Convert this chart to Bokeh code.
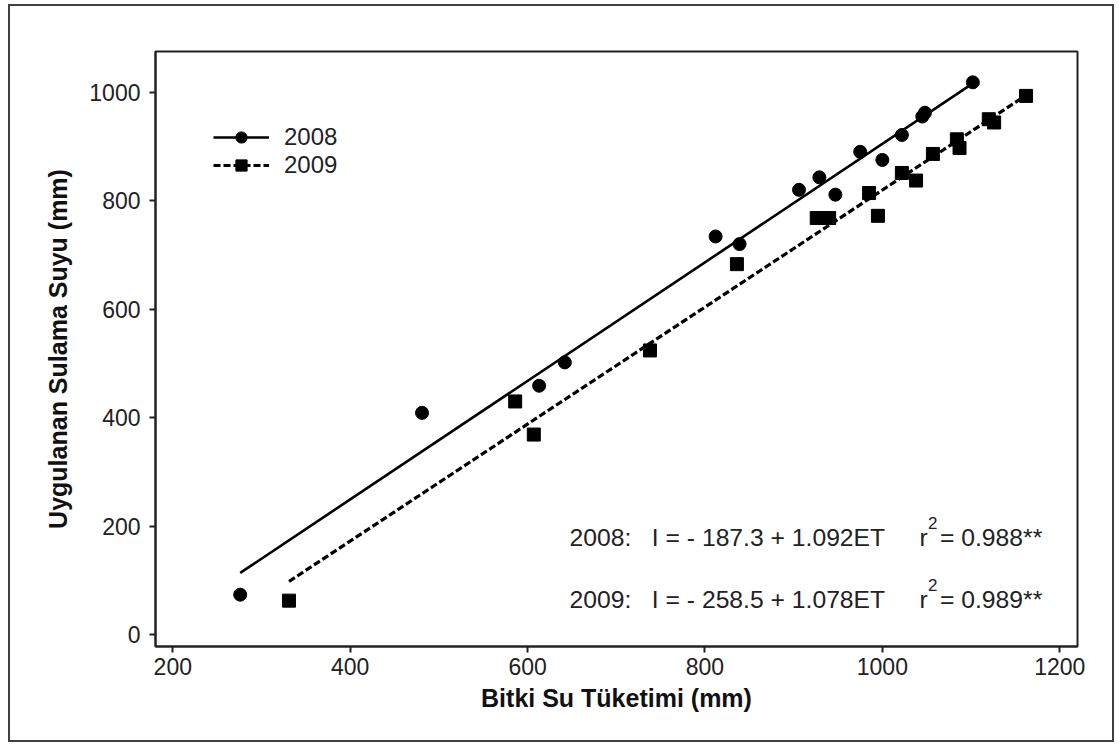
import numpy as np
from bokeh.plotting import figure
from bokeh.models import Range1d, FixedTicker, Legend, LegendItem, Label
from bokeh.embed import file_html
from bokeh.resources import INLINE

# ---------------- data ----------------
years = ["2008", "2009"]
et_2008 = [276, 481, 613, 642, 812, 839, 906, 929, 947, 975, 1000, 1022, 1045, 1048, 1102]
irr_2008 = [74, 409, 459, 502, 734, 720, 820, 843, 811, 890, 875, 921, 955, 962, 1018]
et_2009 = [331, 586, 607, 738, 836, 926, 940, 985, 995, 1022, 1038, 1057, 1084, 1087, 1120, 1126, 1162]
irr_2009 = [63, 430, 369, 524, 683, 768, 768, 814, 772, 851, 837, 886, 913, 897, 950, 944, 993]
intercepts = [-187.3, -258.5]
slopes = [1.092, 1.078]
r2_values = [0.988, 0.989]
x_ticks = [200, 400, 600, 800, 1000, 1200]
y_ticks = [0, 200, 400, 600, 800, 1000]
x_label = "Bitki Su Tüketimi (mm)"
y_label = "Uygulanan Sulama Suyu (mm)"

FONT = "Liberation Sans"
X0, X1 = 180.5, 1220.0
Y0, Y1 = -21.5, 1074.8

p = figure(width=1106, height=738, output_backend="svg", toolbar_location=None,
           x_range=Range1d(X0, X1), y_range=Range1d(Y0, Y1),
           min_border_left=145, min_border_right=39, min_border_top=45, min_border_bottom=98,
           background_fill_color="white", border_fill_color="white")
p.styles = {"margin-left": "8px", "margin-top": "4px", "border": "2px solid #404040"}

p.xgrid.visible = False
p.ygrid.visible = False
p.outline_line_color = "#222222"
p.outline_line_width = 2

for ax, ticks in ((p.xaxis[0], x_ticks), (p.yaxis[0], y_ticks)):
    ax.ticker = FixedTicker(ticks=ticks)
    ax.minor_tick_line_color = None
    ax.major_tick_in = 0
    ax.major_tick_out = 6
    ax.major_tick_line_width = 2
    ax.major_tick_line_color = "#222222"
    ax.axis_line_width = 2
    ax.axis_line_color = "#222222"
    ax.major_label_text_font = FONT
    ax.major_label_text_font_size = "23px"
    ax.major_label_text_color = "#222222"
    ax.axis_label_text_font = FONT
    ax.axis_label_text_font_style = "bold"
    ax.axis_label_text_font_size = "25px"
    ax.axis_label_text_color = "#111111"

p.xaxis.axis_label = x_label
p.yaxis.axis_label = y_label
p.xaxis.major_label_standoff = 5
p.yaxis.major_label_standoff = 9
p.xaxis.axis_label_standoff = 6
p.yaxis.axis_label_standoff = 14

series = [(et_2008, irr_2008, "circle", 13, "solid", 2.6),
          (et_2009, irr_2009, "square", 13, "7 3", 3.2)]
items = []
for i, (xs, ys, marker, size, dash, lw) in enumerate(series):
    xs_a = np.array(xs, dtype=float)
    lx = np.array([xs_a.min(), xs_a.max()])
    ly = intercepts[i] + slopes[i] * lx
    lr = p.line(lx, ly, line_color="black", line_width=lw, line_dash=dash)
    sr = p.scatter(xs, ys, marker=marker, size=size, fill_color="black", line_color="black")
    items.append(LegendItem(label=years[i], renderers=[lr, sr]))

legend = Legend(items=items, location=(58, 467), glyph_width=56, glyph_height=28,
                label_height=28, label_standoff=15, spacing=0, padding=0, margin=0,
                border_line_color=None, background_fill_alpha=0,
                label_text_font=FONT, label_text_font_size="24px", label_text_color="#222222")
p.add_layout(legend)


def px_x(px):
    return 200 + (px - 172.3) / 0.887


def px_y(py):
    return (634.3 - py) / 0.543


NB = "\u00a0"
EQ_SIZE = "24.7px"
baselines = [537.3, 599.3]
for i in range(2):
    eq = f"{years[i]}:{NB*3}I = - {abs(intercepts[i])} + {slopes[i]:.3f}ET"
    b = baselines[i]
    p.add_layout(Label(x=px_x(569), y=px_y(b), text=eq, text_font=FONT, text_font_size=EQ_SIZE,
                       text_baseline="alphabetic", text_color="#222222"))
    p.add_layout(Label(x=px_x(919), y=px_y(b), text="r", text_font=FONT, text_font_size=EQ_SIZE,
                       text_baseline="alphabetic", text_color="#222222"))
    p.add_layout(Label(x=px_x(927.5), y=px_y(b - 15), text="2", text_font=FONT, text_font_size="17px",
                       text_baseline="alphabetic", text_color="#222222"))
    p.add_layout(Label(x=px_x(939.5), y=px_y(b), text=f"= {r2_values[i]}**", text_font=FONT,
                       text_font_size=EQ_SIZE, text_baseline="alphabetic", text_color="#222222"))

open("out.html", "w").write(file_html(p, INLINE))
